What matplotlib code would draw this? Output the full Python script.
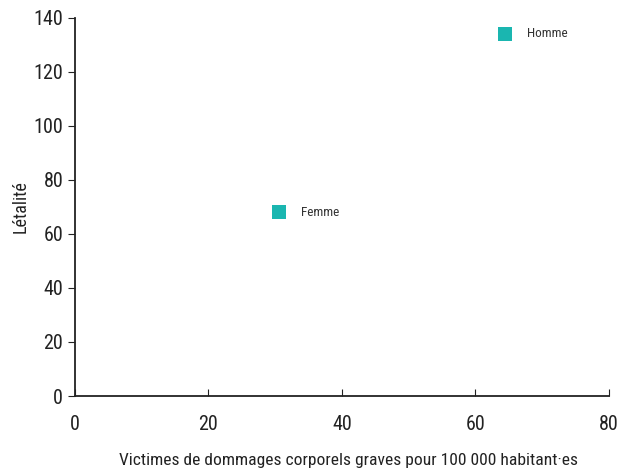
import matplotlib
matplotlib.use("Agg")
import matplotlib.pyplot as plt
from matplotlib import font_manager

# Data
labels = ["Femme", "Homme"]
victimes = [30.6, 64.4]
letalite = [68.1, 134.1]

xticks = [0, 20, 40, 60, 80]
yticks = [0, 20, 40, 60, 80, 100, 120, 140]

color = "#1ab6b0"

# condensed font, first one that is installed
names = {f.name for f in font_manager.fontManager.ttflist}
wanted = ["Roboto Condensed", "Archivo Narrow", "PT Sans Narrow", "Barlow Condensed"]
family = [n for n in wanted if n in names][:1] + ["DejaVu Sans"]
plt.rcParams["font.family"] = family

fig = plt.figure(figsize=(6.2, 4.72), dpi=100)
ax = fig.add_axes([0.121, 0.161, 0.861, 0.801])

ax.scatter(victimes, letalite, marker="s", s=100, color=color, linewidths=0, zorder=3)
for lab, x, y in zip(labels, victimes, letalite):
    ax.annotate(lab, (x, y), xytext=(16, 0), textcoords="offset points",
                va="center", ha="left", fontsize=9.5, color="#333333")

ax.set_xlim(0, 80)
ax.set_ylim(0, 140)
ax.set_xticks(xticks)
ax.set_yticks(yticks)
ax.tick_params(axis="x", direction="in", length=5, labelsize=14.5, pad=14, colors="#222222")
ax.tick_params(axis="y", direction="out", length=5, labelsize=14.5, colors="#222222")
for s in ["top", "right"]:
    ax.spines[s].set_visible(False)
for s in ["left", "bottom"]:
    ax.spines[s].set_color("#222222")
    ax.spines[s].set_linewidth(1.3)

ax.set_xlabel("Victimes de dommages corporels graves pour 100 000 habitant·es",
              fontsize=12.6, labelpad=13, color="#222222")
ax.xaxis.label.set_x(0.512)
ax.set_ylabel("Létalité", fontsize=13, labelpad=3, color="#222222")

fig.savefig("out.png", dpi=100)
